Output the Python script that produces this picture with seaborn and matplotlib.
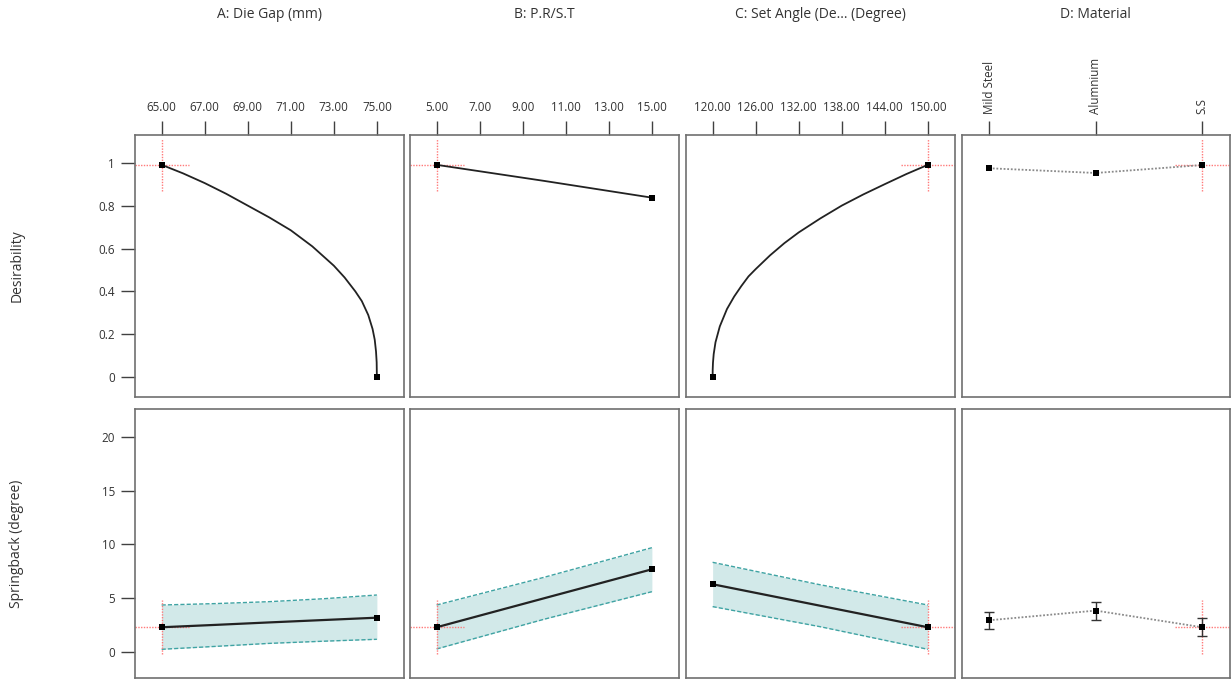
import matplotlib
matplotlib.use("Agg")
import matplotlib.pyplot as plt
import seaborn as sns
import numpy as np
import pandas as pd

# ---------------- data ----------------
titles = ["A: Die Gap (mm)", "B: P.R/S.T", "C: Set Angle (De... (Degree)", "D: Material"]

a_ticks = [65.00, 67.00, 69.00, 71.00, 73.00, 75.00]
b_ticks = [5.00, 7.00, 9.00, 11.00, 13.00, 15.00]
c_ticks = [120.00, 126.00, 132.00, 138.00, 144.00, 150.00]
materials = ["Mild Steel", "Alumnium", "S.S"]

# desirability curves
a_x = [65, 66, 67, 68, 69, 70, 71, 72, 73, 73.5, 74, 74.3, 74.6, 74.8, 74.9, 74.96, 74.99, 75]
a_des = [0.99, 0.95, 0.905, 0.855, 0.80, 0.745, 0.685, 0.61, 0.52, 0.465, 0.40, 0.355, 0.29, 0.225,
         0.175, 0.12, 0.07, 0.0]
b_x = [5, 10, 15]
b_des = [0.99, 0.915, 0.837]
c_x = [120, 120.01, 120.05, 120.15, 120.4, 121, 122, 123, 124, 125, 126, 128, 130, 132, 135, 138,
       141, 144, 147, 150]
c_des = [0.0, 0.035, 0.068, 0.108, 0.163, 0.237, 0.318, 0.376, 0.425, 0.47, 0.504, 0.568, 0.625,
         0.675, 0.74, 0.80, 0.852, 0.90, 0.947, 0.99]
d_des = [0.974, 0.952, 0.989]

# springback predictions with confidence bands
a_bx = [65, 67.5, 70, 72.5, 75]
a_spr = [2.30, 2.52, 2.75, 2.97, 3.19]
a_hi = [4.37, 4.50, 4.68, 4.95, 5.30]
a_lo = [0.25, 0.52, 0.80, 1.00, 1.18]
b_bx = [5, 10, 15]
b_spr = [2.30, 5.00, 7.69]
b_hi = [4.37, 6.95, 9.70]
b_lo = [0.28, 3.05, 5.61]
c_bx = [120, 135, 150]
c_spr = [6.30, 4.30, 2.30]
c_hi = [8.34, 6.25, 4.37]
c_lo = [4.22, 2.35, 0.25]
d_spr = [2.95, 3.85, 2.30]
d_hi = [3.75, 4.65, 3.13]
d_lo = [2.11, 3.00, 1.49]

# optimum setting
opt_x = [65, 5, 150, 2]
opt_des = 0.99
opt_spr = 2.30

des_ticks = [0, 0.2, 0.4, 0.6, 0.8, 1]
des_labels = ["0", "0.2", "0.4", "0.6", "0.8", "1"]
spr_ticks = [0, 5, 10, 15, 20]

# ---------------- style ----------------
sns.set_theme(style="white")
plt.rcParams['font.family'] = ['Open Sans', 'DejaVu Sans']

W, H = 1231, 681
fig = plt.figure(figsize=(W / 100, H / 100), dpi=100)

col_px = [(134.5, 404), (409.5, 679), (685.5, 955), (961.5, 1230)]
row_px = [(135, 397), (409, 678)]
xlims = [(63.74, 76.26), (3.74, 16.26), (116.22, 153.78), (-0.26, 2.26)]
ylims = [(-0.092, 1.129), (-2.42, 22.6)]

spine_col = "#707070"
tick_col = "#404040"
txt_col = "#333333"
red = "#ff7a7a"
band_fc = "#d2e9e9"
band_ec = "#3fa3a3"
line_col = "#222222"
tick_fs = 8.4
lab_fs = 10

axes = [[None] * 4 for _ in range(2)]
for r in range(2):
    for c in range(4):
        x0, x1 = col_px[c]
        y0, y1 = row_px[r]
        ax = fig.add_axes([x0 / W, 1 - y1 / H, (x1 - x0) / W, (y1 - y0) / H])
        ax.set_xlim(*xlims[c])
        ax.set_ylim(*ylims[r])
        for s in ax.spines.values():
            s.set_color(spine_col)
            s.set_linewidth(1.2)
        ax.set_facecolor("white")
        axes[r][c] = ax


def crosshair(ax, x, y):
    xl = ax.get_xlim(); yl = ax.get_ylim()
    hx = 0.1 * (xl[1] - xl[0]); hy = 0.1 * (yl[1] - yl[0])
    ax.plot([x - hx, x + hx], [y, y], color=red, lw=1.0, ls=(0, (1, 1)), zorder=2, clip_on=True)
    ax.plot([x, x], [y - hy, y + hy], color=red, lw=1.0, ls=(0, (1, 1)), zorder=2, clip_on=True)


def marks(ax, xs, ys):
    sns.scatterplot(x=xs, y=ys, ax=ax, marker="s", s=22, color="black", edgecolor="black",
                    linewidth=0, zorder=5, legend=False)


# top row: desirability
for c, (xs, ys) in enumerate([(a_x, a_des), (b_x, b_des), (c_x, c_des)]):
    ax = axes[0][c]
    crosshair(ax, opt_x[c], opt_des)
    sns.lineplot(x=xs, y=ys, ax=ax, color=line_col, lw=1.3, sort=False, estimator=None, zorder=4)
    marks(ax, [xs[0], xs[-1]], [ys[0], ys[-1]])

ax = axes[0][3]
crosshair(ax, opt_x[3], opt_des)
dfd = pd.DataFrame({"pos": [0, 1, 2], "des": d_des})
sns.lineplot(data=dfd, x="pos", y="des", ax=ax, color="#8a8a8a", lw=1.3, ls=(0, (1, 1)),
             estimator=None, zorder=4)
marks(ax, dfd["pos"], dfd["des"])

# bottom row: springback
for c, (xs, ys, hi, lo) in enumerate([(a_bx, a_spr, a_hi, a_lo), (b_bx, b_spr, b_hi, b_lo),
                                       (c_bx, c_spr, c_hi, c_lo)]):
    ax = axes[1][c]
    ax.fill_between(xs, lo, hi, color=band_fc, lw=0, zorder=1)
    ax.plot(xs, hi, color=band_ec, lw=1.0, ls=(0, (3, 1.5)), zorder=2)
    ax.plot(xs, lo, color=band_ec, lw=1.0, ls=(0, (3, 1.5)), zorder=2)
    crosshair(ax, opt_x[c], opt_spr)
    sns.lineplot(x=xs, y=ys, ax=ax, color=line_col, lw=1.6, estimator=None, zorder=4)
    marks(ax, [xs[0], xs[-1]], [ys[0], ys[-1]])

ax = axes[1][3]
crosshair(ax, opt_x[3], opt_spr)
dfs = pd.DataFrame({"pos": [0, 1, 2], "spr": d_spr, "hi": d_hi, "lo": d_lo})
sns.lineplot(data=dfs, x="pos", y="spr", ax=ax, color="#8a8a8a", lw=1.3, ls=(0, (1, 1)),
             estimator=None, zorder=4)
ax.errorbar(dfs["pos"], dfs["spr"],
            yerr=[dfs["spr"] - dfs["lo"], dfs["hi"] - dfs["spr"]],
            fmt="none", ecolor="#333333", elinewidth=1.0, capsize=3.5, capthick=1.0, zorder=4)
marks(ax, dfs["pos"], dfs["spr"])

# ticks
top_ticks = [a_ticks, b_ticks, c_ticks]
for c in range(4):
    ax = axes[0][c]
    ax.xaxis.set_ticks_position("top")
    ax.xaxis.set_label_position("top")
    if c < 3:
        ax.set_xticks(top_ticks[c])
        ax.set_xticklabels([f"{v:.2f}" for v in top_ticks[c]], fontsize=tick_fs, color=txt_col)
    else:
        ax.set_xticks([0, 1, 2])
        ax.set_xticklabels(materials, fontsize=tick_fs, color=txt_col, rotation=90)
    ax.tick_params(axis="x", which="both", top=True, bottom=False, length=10, width=1.0,
                   color=tick_col, pad=5, direction="out")
    ax.set_xlabel("")
    ax.set_ylabel("")
    if c > 0:
        ax.set_yticks([])
    axes[1][c].set_xticks([])
    axes[1][c].set_xlabel("")
    axes[1][c].set_ylabel("")
    if c > 0:
        axes[1][c].set_yticks([])
    fig.text(((col_px[c][0] + col_px[c][1]) / 2) / W, 1 - 15 / H, titles[c],
             ha="center", va="center", fontsize=lab_fs, color=txt_col)

for r, (tk, lb) in enumerate([(des_ticks, des_labels), (spr_ticks, [str(v) for v in spr_ticks])]):
    ax = axes[r][0]
    ax.set_yticks(tk)
    ax.set_yticklabels(lb, fontsize=tick_fs, color=txt_col)
    ax.tick_params(axis="y", which="both", left=True, length=10, width=1.0, color=tick_col,
                   pad=4, direction="out")

fig.text(17 / W, 1 - ((row_px[0][0] + row_px[0][1]) / 2) / H, "Desirability", rotation=90,
         ha="center", va="center", fontsize=lab_fs, color=txt_col)
fig.text(17 / W, 1 - ((row_px[1][0] + row_px[1][1]) / 2) / H, "Springback (degree)", rotation=90,
         ha="center", va="center", fontsize=lab_fs, color=txt_col)

fig.savefig("out.png", dpi=100, facecolor="white")
